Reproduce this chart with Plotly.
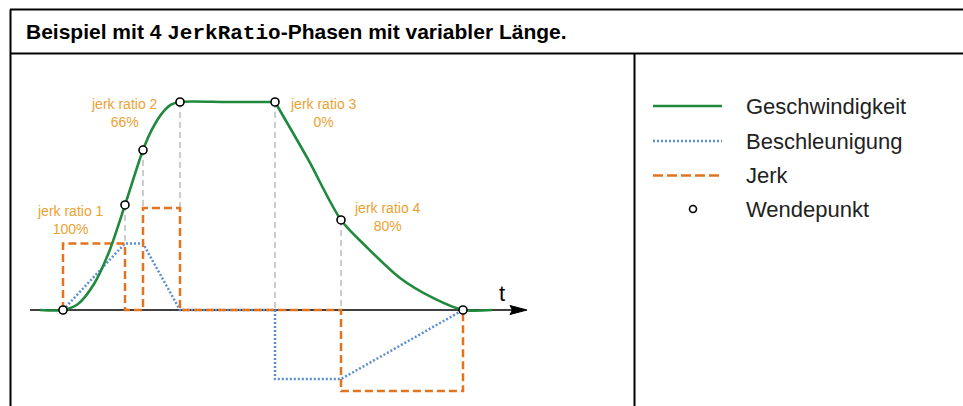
import plotly.graph_objects as go

W, H = 963, 406

# ---- profile data (time in arbitrary units, values in % of scale) ----
# key instants: start, end of jerk phases, start/end of constant velocity
key_t = [0, 15.5, 20, 29.25, 53, 69.5, 100]
key_v = [0, 50.5, 76.9, 100, 100, 43.3, 0]

# velocity: acceleration part and deceleration part
vel_acc_t = [-5.75, 0, 3.75, 7.75, 11.5, 15.5, 20, 22.25, 24.6, 27, 29.25, 41, 53]
vel_acc_v = [0, 0, 2.9, 12.5, 27.9, 50.5, 76.9, 86.8, 94.2, 98.7, 100, 100, 100]
vel_dec_t = [53, 61.25, 69.5, 75.9, 84.25, 92.5, 100, 107.25]
vel_dec_v = [100, 72.5, 43.3, 30.3, 15.4, 5.8, 0, 0]

# acceleration
acc_t = [0, 15.5, 20, 29.25, 53, 53, 69.5, 100]
acc_v = [0, 32, 32, 0, 0, -33.2, -33.2, 0]

# jerk
jerk_t = [0, 0, 15.5, 15.5, 20, 20, 29.25, 29.25, 69.5, 69.5, 100, 100]
jerk_v = [0, 32, 32, 0, 0, 49, 49, 0, 0, -39, -39, 0]

# vertical guides from the velocity curve down to the jerk/acceleration steps
guide_t = [15.5, 20, 29.25, 53, 69.5]
guide_top = [50.5, 76.9, 100, 100, 43.3]
guide_bottom = [32, 49, 49, 0, 0]

# jerk ratio labels
ratio_names = ["jerk ratio 1", "jerk ratio 2", "jerk ratio 3", "jerk ratio 4"]
ratio_pct = [100, 66, 0, 80]
ratio_lbl_t = [1.75, 15.25, 65, 81]
ratio_lbl_v = [43.3, 94.9, 94.9, 44.9]

legend_names = ["Geschwindigkeit", "Beschleunigung", "Jerk", "Wendepunkt"]

axis_start, axis_end = -8.25, 116

# ---- styles ----
GREEN = "#1f8a3d"
BLUE = "#5a8fd3"
ORANGE = "#e2731f"
LABEL = "#eba233"
GREY = "#bdbdbd"
SANS = "Arial, Liberation Sans, sans-serif"
MONO = "Courier New, Liberation Mono, monospace"


def px(x):
    return x / W


def py(y):
    return 1 - y / H


fig = go.Figure()

gx, gy = [], []
for t, a, b in zip(guide_t, guide_top, guide_bottom):
    gx += [t, t, None]
    gy += [a, b, None]
fig.add_trace(go.Scatter(x=gx, y=gy, mode="lines", hoverinfo="skip",
                         line=dict(color=GREY, width=1.5, dash="6px,4px")))

fig.add_trace(go.Scatter(x=acc_t, y=acc_v, mode="lines", name=legend_names[1],
                         line=dict(color=BLUE, width=2.5, dash="2px,2px")))
fig.add_trace(go.Scatter(x=jerk_t, y=jerk_v, mode="lines", name=legend_names[2],
                         line=dict(color=ORANGE, width=2.5, dash="8px,4px")))
for tt, vv in ((vel_acc_t, vel_acc_v), (vel_dec_t, vel_dec_v)):
    fig.add_trace(go.Scatter(x=tt, y=vv, mode="lines", name=legend_names[0],
                             line=dict(color=GREEN, width=2.6, shape="spline",
                                       smoothing=0.8)))
fig.add_trace(go.Scatter(x=key_t, y=key_v, mode="markers", name=legend_names[3],
                         marker=dict(size=8, color="white",
                                     line=dict(color="black", width=1.6))))

shapes = []
# time axis with arrow head
shapes.append(dict(type="line", xref="x", yref="y", x0=axis_start, x1=axis_end - 3,
                   y0=0, y1=0, line=dict(color="black", width=1.5), layer="below"))
shapes.append(dict(type="path", xref="x", yref="y", xsizemode="pixel",
                   ysizemode="pixel", xanchor=axis_end, yanchor=0,
                   path="M-17,-4.5 L0,0 L-17,4.5 L-14.5,0 Z",
                   fillcolor="black", line=dict(color="black", width=1)))

# table frame
border = dict(color="black", width=2)
for x0, y0, x1, y1 in [(10, 9.5, W, 9.5), (10.5, 9.5, 10.5, H),
                       (10, 53.5, W, 53.5), (634.5, 53.5, 634.5, H)]:
    shapes.append(dict(type="line", xref="paper", yref="paper",
                       x0=px(x0), y0=py(y0), x1=px(x1), y1=py(y1), line=border))

# legend samples
leg_y = [106, 141, 175.5, 209]
shapes.append(dict(type="line", xref="paper", yref="paper", x0=px(653), x1=px(722),
                   y0=py(leg_y[0]), y1=py(leg_y[0]), line=dict(color=GREEN, width=2.6)))
shapes.append(dict(type="line", xref="paper", yref="paper", x0=px(653), x1=px(722),
                   y0=py(leg_y[1]), y1=py(leg_y[1]),
                   line=dict(color=BLUE, width=2.5, dash="2px,2px")))
shapes.append(dict(type="line", xref="paper", yref="paper", x0=px(653), x1=px(722),
                   y0=py(leg_y[2]), y1=py(leg_y[2]),
                   line=dict(color=ORANGE, width=2.5, dash="10px,4px")))
shapes.append(dict(type="circle", xref="paper", yref="paper",
                   x0=px(689.5), x1=px(696.5), y0=py(leg_y[3] - 3.5), y1=py(leg_y[3] + 3.5),
                   fillcolor="white", line=dict(color="black", width=1.6)))

annotations = []
annotations.append(dict(
    xref="paper", yref="paper", x=px(24), y=py(32), xanchor="left", yanchor="middle",
    showarrow=False, font=dict(family=SANS, size=21, color="black"),
    text=("<b>Beispiel mit 4 <span style='font-family:Courier New, Liberation Mono, monospace'>"
          "JerkRatio</span>-Phasen mit variabler Länge.</b>")))
for name, yy in zip(legend_names, leg_y):
    annotations.append(dict(xref="paper", yref="paper", x=px(744), y=py(yy),
                            xanchor="left", yanchor="middle", showarrow=False,
                            text=name, font=dict(family=SANS, size=22, color="#222222")))
for name, p, t, v in zip(ratio_names, ratio_pct, ratio_lbl_t, ratio_lbl_v):
    annotations.append(dict(xref="x", yref="y", x=t, y=v, showarrow=False,
                            xanchor="center", yanchor="middle",
                            text=f"{name}<br>{p}%",
                            font=dict(family=SANS, size=14, color=LABEL)))
annotations.append(dict(xref="x", yref="y", x=109.75, y=8, showarrow=False,
                        text="t", font=dict(family=SANS, size=22, color="black")))

fig.update_layout(
    width=W, height=H, margin=dict(l=0, r=0, t=0, b=0),
    paper_bgcolor="white", plot_bgcolor="white", showlegend=False,
    xaxis=dict(range=[-15.75, 225], visible=False, domain=[0, 1]),
    yaxis=dict(range=[-46.154, 149.04], visible=False, domain=[0, 1]),
    shapes=shapes, annotations=annotations,
)

fig.write_html("out.html")
